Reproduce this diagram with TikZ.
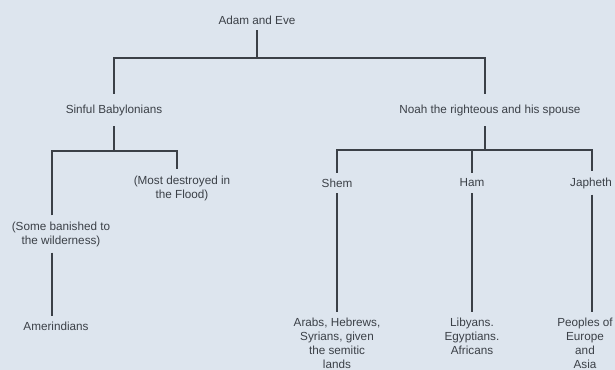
\documentclass[tikz,border=0pt]{standalone}
\usepackage{fontspec}
\setmainfont{Liberation Sans}
\usepackage{xcolor}
\usepackage{tikz}
\usetikzlibrary{calc}

\definecolor{paper}{HTML}{DDE5EE}
\definecolor{ink}{HTML}{3B4047}

\begin{document}
\begin{tikzpicture}[
    x=0.03cm, y=-0.03cm,
    folk/.style={text=ink, font=\fontsize{10}{12}\selectfont, inner xsep=2pt, inner ysep=5pt, align=center},
    tall/.style={inner ysep=9pt},
    branch/.style={draw=ink, line width=0.9pt}
]

\fill[paper] (0,0) rectangle (615,370);
\useasboundingbox (0,0) rectangle (615,370);

\node[folk] (adam) at (257,20) {Adam and Eve};
\node[folk, tall] (sinful) at (114,110) {Sinful Babylonians};
\node[folk, tall] (noah) at (490,110) {Noah the righteous and his spouse};

\node[folk] (flood) at (182,188) {(Most destroyed in\\the Flood)};
\node[folk] (banished) at (61,234) {(Some banished to\\the wilderness)};
\node[folk] (amerind) at (56,326) {Amerindians};

\node[folk] (shem) at (337,183) {Shem};
\node[folk] (ham) at (472,183) {Ham};
\node[folk] (japheth) at (591,183) {Japheth};

\node[folk, anchor=north] (semites) at (337,312) {Arabs, Hebrews,\\Syrians, given\\the semitic\\lands};
\node[folk, anchor=north] (africans) at (472,312) {Libyans.\\Egyptians.\\Africans};
\node[folk, anchor=north, inner xsep=0pt] (peoples) at (585,312) {Peoples of\\Europe\\and\\Asia};

\coordinate (fork0) at (257,58);
\coordinate (fork1) at (114,151);
\coordinate (fork2) at (485,150);

\draw[branch] (adam) -- (fork0);
\draw[branch] (sinful.north) |- (fork0) -| ($(noah.north)+(-5,0)$);

\draw[branch] (sinful) -- (fork1);
\draw[branch] ($(banished.north)+(-9,0)$) |- (fork1) -| ($(flood.north)+(-5,0)$);
\draw[branch] ($(banished.south)+(-9,0)$) -- ($(amerind.north)+(-4,0)$);

\draw[branch] ($(noah.south)+(-5,0)$) -- (fork2);
\draw[branch] (shem) |- (fork2) -| ($(japheth.north)+(1,0)$);
\draw[branch] (ham) -- (ham |- fork2);

\draw[branch] (shem) -- (semites);
\draw[branch] (ham) -- (africans);
\draw[branch] ($(japheth.south)+(1,0)$) -- ($(peoples.north)+(7,0)$);

\end{tikzpicture}
\end{document}
